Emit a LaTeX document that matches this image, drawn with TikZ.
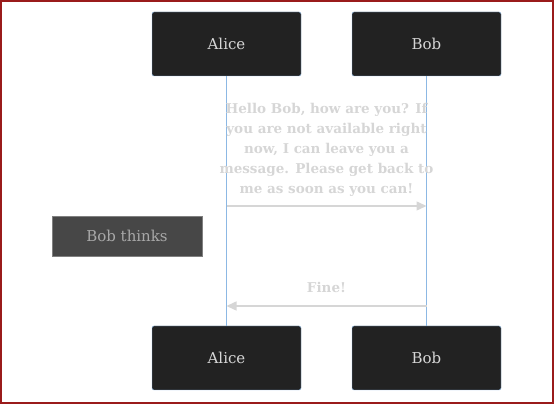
\documentclass[tikz,border=0pt]{standalone}
\usepackage{fontspec}
\setmainfont{DejaVu Serif}
\usetikzlibrary{arrows.meta,positioning}
\definecolor{boxfill}{HTML}{222222}
\definecolor{lifeblue}{HTML}{8CB8E4}
\definecolor{msggray}{HTML}{D6D6D6}
\definecolor{notefill}{HTML}{474747}
\definecolor{notetext}{HTML}{A8A8A8}
\definecolor{framered}{HTML}{9A1B1B}
\tikzset{
    %Define standard arrow tip
    >={Triangle[length=10pt,width=9pt]},
    actor/.style={
      rectangle,
      rounded corners=2pt,
      draw=lifeblue, thin,
      fill=boxfill,
      text=msggray,
      minimum width=149pt,
      minimum height=64pt,
      font=\fontsize{15}{19}\selectfont},
    note/.style={
      rectangle,
      draw=gray, thin,
      fill=notefill,
      text=notetext,
      minimum width=150pt,
      minimum height=40pt,
      font=\fontsize{15}{19}\selectfont},
    life/.style={
      draw=lifeblue, line width=1.7pt},
    msg/.style={
      draw=msggray, line width=1.5pt, ->},
    msgtext/.style={
      text=msggray,
      align=center,
      inner sep=0pt,
      font=\bfseries\fontsize{13.5}{20}\selectfont},
}

\begin{document}
\begin{tikzpicture}[x=1pt, y=1pt, node distance=200pt]
    \useasboundingbox (0,0) rectangle (554,404);
    \draw[framered, line width=2pt] (1,1) rectangle (553,403);

    \node (aliceTop) [actor] at (226.5,360)
          {Alice};
    \node (bobTop) [actor] [right of=aliceTop]
          {Bob};
    \node (aliceBot) [actor] at (226.5,46)
          {Alice};
    \node (bobBot) [actor] [right of=aliceBot]
          {Bob};

    \draw[life] (aliceTop) -- (aliceBot);
    \draw[life] (bobTop) -- (bobBot);

    \node (think) [note] at (127,168)
          {Bob thinks};

    \coordinate (helloA) at (226.5,198);
    \coordinate (helloB) at (426.5,198);
    \draw[msg] (helloA) -- node[msgtext, above=9pt]
          {Hello Bob, how are you? If\\you are not available right\\now, I can leave you a\\message. Please get back to\\me as soon as you can!} (helloB);

    \coordinate (fineB) at (426.5,98);
    \coordinate (fineA) at (226.5,98);
    \draw[msg] (fineB) -- node[msgtext, above=13pt] {Fine!} (fineA);
\end{tikzpicture}
\end{document}
